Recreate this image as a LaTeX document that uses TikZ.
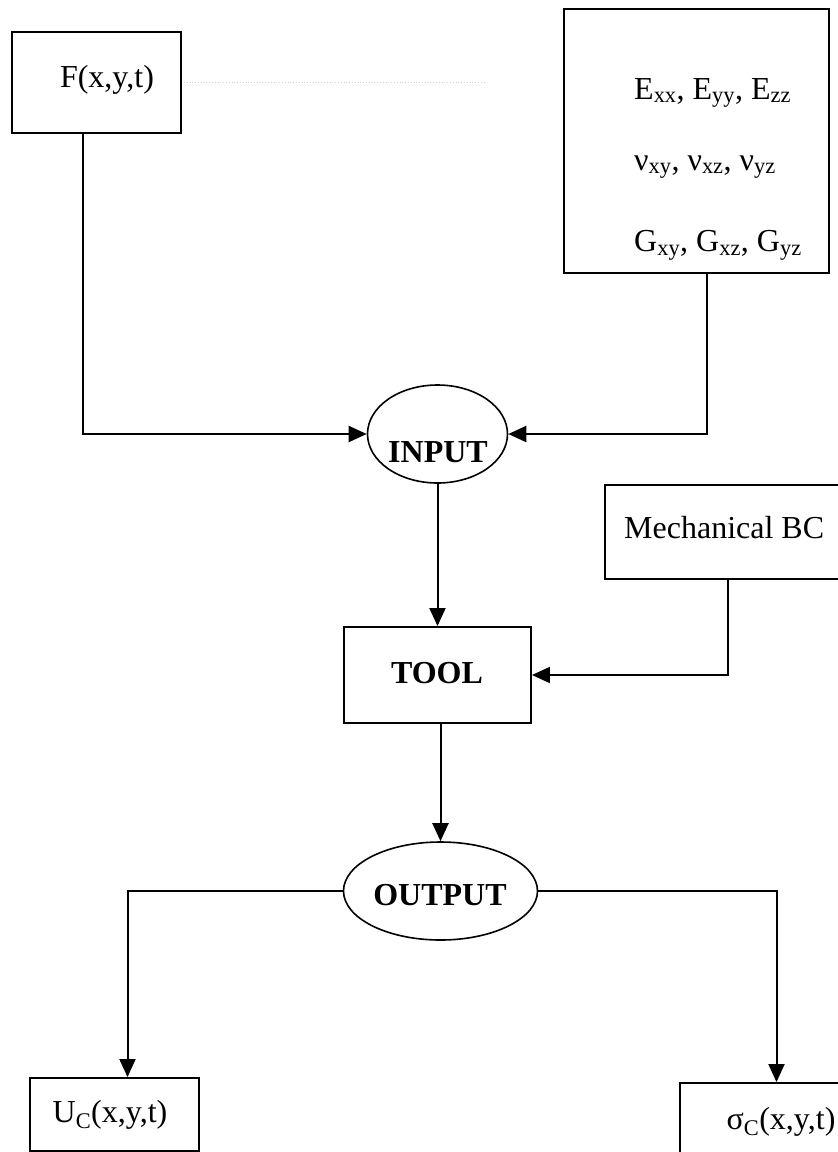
\documentclass[tikz,border=0pt]{standalone}
\usepackage{fontspec}
\setmainfont{Liberation Serif}
\usetikzlibrary{arrows.meta,shapes.geometric}

\tikzset{
  box/.style={draw, line width=1.9pt, rectangle, inner sep=0pt},
  oval/.style={draw, line width=1.6pt, ellipse, inner sep=0pt},
  lbl/.style={inner sep=0pt, font=\fontsize{32}{38}\selectfont},
  blbl/.style={inner sep=0pt, font=\fontsize{32}{38}\selectfont\bfseries},
  link/.style={line width=2pt, -{Triangle[length=18pt,width=16pt]}},
}

\begin{document}
\begin{tikzpicture}[x=1pt, y=-1pt]
  \useasboundingbox (0,0) rectangle (838,1152);

  % input boxes
  \node[box, minimum width=169pt, minimum height=101pt] (F) at (96.5,82.5) {};
  \node[lbl] (Ft) at (107,80) {F(x,y,t)};

  \node[box, minimum width=265pt, minimum height=264pt] (M) at (696.5,141) {};
  \node[lbl, anchor=west] (Mt1) at (634,93) {E\textsubscript{xx}, E\textsubscript{yy}, E\textsubscript{zz}};
  \node[lbl, anchor=west] (Mt2) at (634,167) {ν\textsubscript{xy}, ν\textsubscript{xz}, ν\textsubscript{yz}};
  \node[lbl, anchor=west] (Mt3) at (634,245) {G\textsubscript{xy}, G\textsubscript{xz}, G\textsubscript{yz}};

  % faint dotted guide to the right of F
  \coordinate (dotend) at (485,82.5);
  \draw[gray!35, line width=0.8pt, dotted] ([xshift=2pt]F.east) -- (dotend);

  % central chain
  \node[oval, minimum width=140pt, minimum height=98pt] (IN) at (437.5,434) {};
  \node[blbl] (INt) at (438,452) {INPUT};

  \node[box, minimum width=187pt, minimum height=96pt] (TL) at (437.5,675) {};
  \node[blbl] (TLt) at (437,673) {TOOL};

  \node[box, minimum width=237pt, minimum height=94pt] (MB) at (723.5,532) {};
  \node[lbl, anchor=west] (MBt) at (624,528) {Mechanical BC};

  \node[oval, minimum width=194pt, minimum height=98pt] (OUT) at (440.5,891) {};
  \node[blbl] (OUTt) at (440,895) {OUTPUT};

  % results
  \node[box, minimum width=169pt, minimum height=73pt] (U) at (114.5,1114.5) {};
  \node[lbl] (Ut) at (110,1115) {U\textsubscript{C}(x,y,t)};

  \node[box, minimum width=165pt, minimum height=77pt] (S) at (762.5,1121.5) {};
  \node[lbl] (St) at (781,1122) {σ\textsubscript{C}(x,y,t)};

  % connectors
  \draw[link] ([xshift=-13.5pt]F.south) |- (IN.west);
  \draw[link] ([xshift=10.5pt]M.south) |- (IN.east);
  \draw[link] (IN.south) -- (TL.north);
  \draw[link] ([xshift=4.5pt]MB.south) |- (TL.east);
  \draw[link] (TL.south -| OUT.north) -- (OUT.north);
  \draw[link] (OUT.west) -| ([xshift=13pt]U.north);
  \draw[link] (OUT.east) -| ([xshift=14pt]S.north);
\end{tikzpicture}
\end{document}
